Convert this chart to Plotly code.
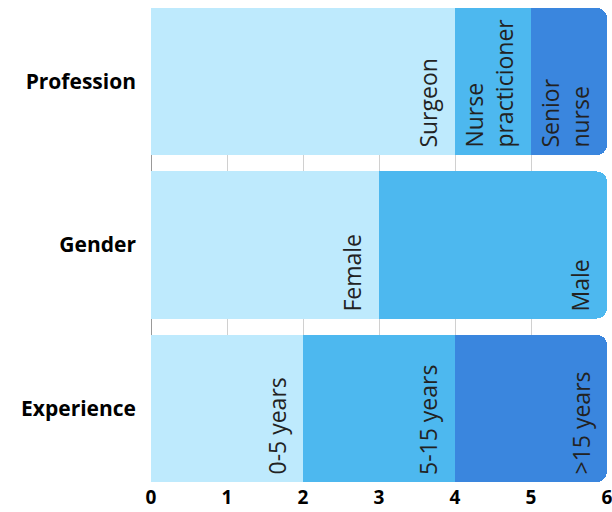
import plotly.graph_objects as go

# Categories listed bottom-to-top
categories = ["Experience", "Gender", "Profession"]

# Stacked segment values (one list per stack level)
level1_values = [2, 3, 4]
level2_values = [2, 3, 1]
level3_values = [2, None, 1]

# Segment labels per category, same stacking order
level1_labels = ["0-5 years", "Female", "Surgeon"]
level2_labels = ["5-15 years", "Male", "Nurse<br>practicioner"]
level3_labels = [">15 years", None, "Senior<br>nurse"]

colors = ["#BEEAFD", "#4DB8EF", "#3A86DE"]

levels = [level1_values, level2_values, level3_values]
labels = [level1_labels, level2_labels, level3_labels]

fig = go.Figure()
for vals, col in zip(levels, colors):
    fig.add_trace(go.Bar(
        y=categories, x=vals, orientation="h",
        marker=dict(color=col, line=dict(width=0)),
        hoverinfo="skip",
    ))

# Rotated labels at the right end of each segment, aligned to the bar bottom
annotations = []
for i, cat in enumerate(categories):
    total = 0
    for vals, labs in zip(levels, labels):
        v = vals[i]
        if v is None:
            continue
        total += v
        annotations.append(dict(
            x=total, y=i - 0.45, xref="x", yref="y",
            text=labs[i], showarrow=False, textangle=-90,
            xanchor="right", yanchor="bottom", align="left",
            xshift=-9, yshift=5,
            font=dict(family="Open Sans", size=23, color="#222222"),
        ))

fig.update_layout(
    barmode="stack",
    bargap=0.1,
    barcornerradius=10,
    showlegend=False,
    width=612, height=512,
    margin=dict(l=151, r=5, t=8, b=30, autoexpand=False),
    plot_bgcolor="white",
    paper_bgcolor="white",
    annotations=annotations,
    xaxis=dict(
        range=[0, 6], dtick=1, showgrid=True, gridcolor="#D0D0D0", gridwidth=1,
        zeroline=True, zerolinecolor="#999999", zerolinewidth=1,
        showline=False, ticks="", ticklabelstandoff=2,
        ticklabeloverflow="allow", automargin=False,
        tickfont=dict(family="Open Sans", size=19, color="#000000", weight="bold"),
    ),
    yaxis=dict(
        range=[-0.45, 2.45], showgrid=False, zeroline=False, showline=False,
        ticks="", ticklabelstandoff=14, automargin=False,
        tickfont=dict(family="Open Sans", size=21, color="#000000", weight="bold"),
    ),
)

fig.write_html("out.html")
